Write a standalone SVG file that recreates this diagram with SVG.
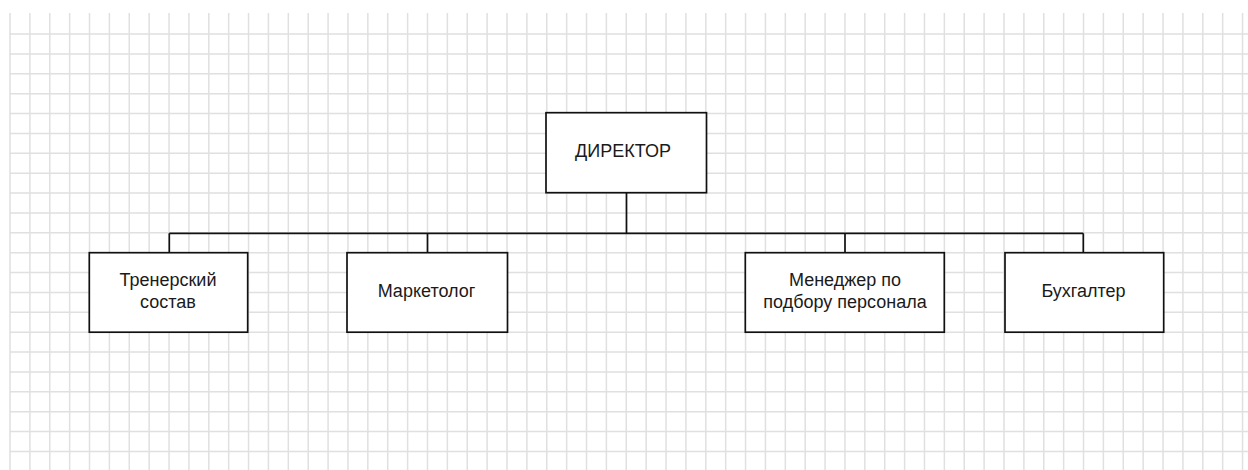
<svg xmlns="http://www.w3.org/2000/svg" width="1248" height="470" viewBox="0 0 1248 470">
  <defs>
    <style>
      .grid { stroke: #e0e0e0; stroke-width: 1.5; fill: none; }
      .box { fill: #ffffff; stroke: #111111; stroke-width: 1.7; }
      .edge { stroke: #111111; stroke-width: 1.7; fill: none; }
      .label { font-family: "Liberation Sans", Arial, sans-serif; font-size: 18px; fill: #1a1a1a; text-anchor: middle; }
    </style>
  </defs>

  <rect width="1248" height="470" fill="#ffffff"/>

  <!-- background grid, pitch 19.88 -->
  <g id="grid" class="grid">
    <path d="M10 13V470 M29.88 13V470 M49.76 13V470 M69.64 13V470 M89.52 13V470 M109.4 13V470 M129.28 13V470 M149.16 13V470 M169.04 13V470 M188.92 13V470 M208.8 13V470 M228.68 13V470 M248.56 13V470 M268.44 13V470 M288.32 13V470 M308.2 13V470 M328.08 13V470 M347.96 13V470 M367.84 13V470 M387.72 13V470 M407.6 13V470 M427.48 13V470 M447.36 13V470 M467.24 13V470 M487.12 13V470 M507 13V470 M526.88 13V470 M546.76 13V470 M566.64 13V470 M586.52 13V470 M606.4 13V470 M626.28 13V470 M646.16 13V470 M666.04 13V470 M685.92 13V470 M705.8 13V470 M725.68 13V470 M745.56 13V470 M765.44 13V470 M785.32 13V470 M805.2 13V470 M825.08 13V470 M844.96 13V470 M864.84 13V470 M884.72 13V470 M904.6 13V470 M924.48 13V470 M944.36 13V470 M964.24 13V470 M984.12 13V470 M1004 13V470 M1023.88 13V470 M1043.76 13V470 M1063.64 13V470 M1083.52 13V470 M1103.4 13V470 M1123.28 13V470 M1143.16 13V470 M1163.04 13V470 M1182.92 13V470 M1202.8 13V470 M1222.68 13V470 M1242.56 13V470"/>
    <path d="M10 34H1248 M10 53.88H1248 M10 73.76H1248 M10 93.64H1248 M10 113.52H1248 M10 133.4H1248 M10 153.28H1248 M10 173.16H1248 M10 193.04H1248 M10 212.92H1248 M10 232.8H1248 M10 252.68H1248 M10 272.56H1248 M10 292.44H1248 M10 312.32H1248 M10 332.2H1248 M10 352.08H1248 M10 371.96H1248 M10 391.84H1248 M10 411.72H1248 M10 431.6H1248 M10 451.48H1248"/>
  </g>

  <!-- org-chart connectors -->
  <g id="connectors" class="edge">
    <path d="M626.5 192.7V233.3"/>
    <path d="M169.3 233.3H1083.3"/>
    <path d="M169.3 233.3V252.7"/>
    <path d="M427.5 233.3V252.7"/>
    <path d="M845 233.3V252.7"/>
    <path d="M1083.3 233.3V252.7"/>
  </g>

  <g id="director">
    <rect class="box" x="546" y="112.7" width="160.5" height="80"/>
    <text class="label" x="623" y="157">ДИРЕКТОР</text>
  </g>

  <g id="coaching-staff">
    <rect class="box" x="89.3" y="252.7" width="158.4" height="79.5"/>
    <text class="label" x="168" y="286">Тренерский</text>
    <text class="label" x="168" y="307.5">состав</text>
  </g>

  <g id="marketer">
    <rect class="box" x="347" y="252.7" width="160.5" height="79.5"/>
    <text class="label" x="426.5" y="296.5">Маркетолог</text>
  </g>

  <g id="recruiter">
    <rect class="box" x="745.3" y="252.7" width="199" height="79.5"/>
    <text class="label" x="845" y="286">Менеджер по</text>
    <text class="label" x="845" y="307.5">подбору персонала</text>
  </g>

  <g id="accountant">
    <rect class="box" x="1005" y="252.7" width="158.7" height="79.5"/>
    <text class="label" x="1083.5" y="296.5">Бухгалтер</text>
  </g>
</svg>
